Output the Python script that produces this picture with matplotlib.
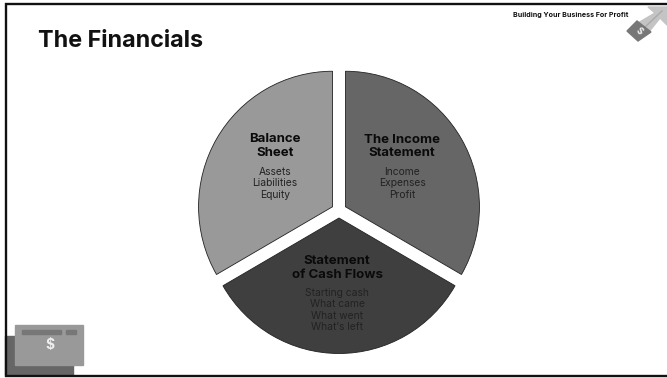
import matplotlib
matplotlib.use('Agg')
import matplotlib.pyplot as plt
from matplotlib.patches import Polygon, Rectangle

W, H = 667, 378

# pie slices, clockwise from the top
slice_sizes = [1, 1, 1]
slice_colors = ['#666666', '#3f3f3f', '#999999']

title = 'The Financials'
header = 'Building Your Business For Profit'
slice_heads = ['The Income\nStatement', 'Statement\nof Cash Flows', 'Balance\nSheet']
slice_items = ['Income\nExpenses\nProfit',
               'Starting cash\nWhat came\nWhat went\nWhat\u2019s left',
               'Assets\nLiabilities\nEquity']
head_xy = [(402, 146.5), (337, 268), (275, 146)]
item_xy = [(402, 183.5), (337, 310), (275, 183.5)]

plt.rcParams['font.family'] = ['Inter', 'DejaVu Sans']

fig = plt.figure(figsize=(W / 100, H / 100), dpi=100)

# the pie sits on its own axes, squeezed a little in x
pie_ax = fig.add_axes([0, 0, 1, 1])
cx, cy = 339, H - 210.5
squeeze = 0.989
pie_ax.pie(slice_sizes, colors=slice_colors, startangle=90, counterclock=False,
           center=(cx, cy), radius=135.5, explode=[7.5] * 3, frame=True,
           wedgeprops=dict(edgecolor='#222222', linewidth=0.6))
pie_ax.set_xlim(cx - cx / squeeze, cx + (W - cx) / squeeze)
pie_ax.set_ylim(0, H)
pie_ax.set_aspect('auto')
pie_ax.axis('off')

ax = fig.add_axes([0, 0, 1, 1])
ax.patch.set_alpha(0)
ax.set_xlim(0, W)
ax.set_ylim(0, H)
ax.axis('off')

# slide frame, open on the right
ax.plot([W + 2, 5.6, 5.6, W + 2], [H - 3.7, H - 3.7, H - 376, H - 376],
        color='#111111', linewidth=1.7, solid_joinstyle='miter', zorder=5)

ax.text(38, H - 41, title, fontsize=16.8, fontweight='bold', color='#111111', va='center', ha='left')
ax.text(628, H - 15, header, fontsize=5.1, fontweight='bold', color='#111111', va='center', ha='right')

for (x, y), s in zip(head_xy, slice_heads):
    ax.text(x, H - y, s, fontsize=9.5, fontweight='bold', color='#0a0a0a', ha='center', va='center', linespacing=1.2)
for (x, y), s in zip(item_xy, slice_items):
    ax.text(x, H - y, s, fontsize=7.4, color='#222222', ha='center', va='center', linespacing=1.14)

# banknote badge, lower left
ax.add_patch(Rectangle((5, 3), 68, 39, color='#666666', zorder=3))
ax.add_patch(Rectangle((15, 13), 68, 40, color='#999999', zorder=4))
ax.add_patch(Rectangle((22, 44), 39, 4, color='#777777', zorder=4))
ax.add_patch(Rectangle((66, 44), 10, 4, color='#777777', zorder=4))
ax.text(49.5, 33, '$', fontsize=10, fontweight='bold', color='#eeeeee', ha='center', va='center', zorder=5)

# money arrow, upper right
ax.add_patch(Polygon([(648, H-7), (667, H-7), (667, H-25), (660, H-18), (648, H-33), (638, H-23), (655, H-13)],
                     color='#c4c4c4', zorder=3))
ax.plot([644, 662], [H-28, H-11], color='#aaaaaa', linewidth=1, zorder=3)
ax.add_patch(Polygon([(637, H-21), (651, H-32), (638, H-41), (627, H-31)], color='#777777', zorder=4))
ax.text(639, H - 31, '$', fontsize=6.5, fontweight='bold', color='#eeeeee', rotation=-40, ha='center', va='center', zorder=5)

fig.savefig('out.png', dpi=100)
